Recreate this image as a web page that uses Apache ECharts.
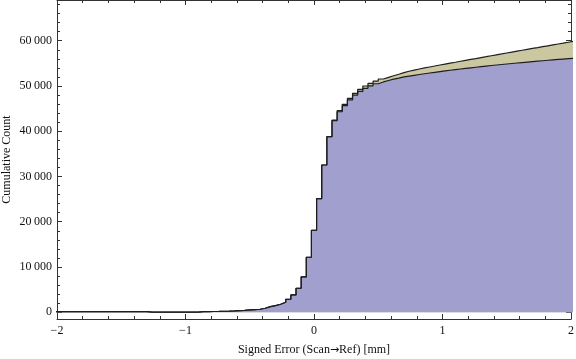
<!DOCTYPE html>
<html><head><meta charset="utf-8">
<script src="https://cdn.jsdelivr.net/npm/echarts@6/dist/echarts.min.js"></script>
<style>html,body{margin:0;padding:0;background:#fff}#c{width:576px;height:359px}</style>
</head><body><div id="c"></div>
<script>
const binCenters = [-2,-1.96,-1.92,-1.88,-1.84,-1.8,-1.76,-1.72,-1.68,-1.64,-1.6,-1.56,-1.52,-1.48,-1.44,-1.4,-1.36,-1.32,-1.28,-1.24,-1.2,-1.16,-1.12,-1.08,-1.04,-1,-0.96,-0.92,-0.88,-0.84,-0.8,-0.76,-0.72,-0.68,-0.64,-0.6,-0.56,-0.52,-0.48,-0.44,-0.4,-0.36,-0.32,-0.28,-0.24,-0.2,-0.16,-0.12,-0.08,-0.04,0,0.04,0.08,0.12,0.16,0.2,0.24,0.28,0.32,0.36,0.4,0.44,0.48,0.52,0.56,0.6,0.64,0.68,0.72,0.76,0.8,0.84,0.88,0.92,0.96,1,1.04,1.08,1.12,1.16,1.2,1.24,1.28,1.32,1.36,1.4,1.44,1.48,1.52,1.56,1.6,1.64,1.68,1.72,1.76,1.8,1.84,1.88,1.92,1.96,2];
const binWidth = 0.04;
const cumulativeBlue = [120,120,120,120,120,120,120,120,120,120,120,120,120,120,120,120,120,120,0,0,0,0,0,0,0,0,0,0,110,140,160,180,210,240,280,350,420,500,580,660,880,1240,1460,1770,2210,2870,3820,5300,7800,12150,18110,25090,32540,38790,42320,44300,45650,46920,47980,48810,49490,50040,50490,50890,51210,51510,51750,52000,52180,52360,52530,52700,52860,53020,53170,53320,53470,53610,53750,53880,54010,54140,54270,54400,54520,54640,54750,54860,54970,55080,55180,55280,55380,55480,55580,55680,55770,55860,55950,56040,56120];
const cumulativeKhaki = [120,120,120,120,120,120,120,120,120,120,120,120,120,120,120,120,120,120,0,0,0,0,0,0,0,0,0,0,110,140,160,180,210,240,280,350,420,500,580,660,880,1240,1460,1770,2210,2870,3820,5300,7800,12150,18110,25090,32540,38790,42450,44550,45950,47270,48380,49260,49990,50590,51090,51540,51910,52260,52600,52950,53250,53500,53750,53980,54200,54420,54630,54840,55050,55250,55460,55660,55860,56060,56270,56470,56680,56880,57080,57290,57490,57690,57890,58090,58290,58480,58680,58880,59080,59280,59470,59670,59870];
const xMajorTicks = [-2,-1,0,1,2];
const xTickLabels = ['\u22122','\u22121','0','1','2'];
const xMinorTicks = [-1.8,-1.6,-1.4,-1.2,-0.8,-0.6,-0.4,-0.2,0.2,0.4,0.6,0.8,1.2,1.4,1.6,1.8];
const yMajorTicks = [0,10000,20000,30000,40000,50000,60000];
const yTickLabels = ['0','10\u2009000','20\u2009000','30\u2009000','40\u2009000','50\u2009000','60\u2009000'];
const yMinorTicks = [2000,4000,6000,8000,12000,14000,16000,18000,22000,24000,26000,28000,32000,34000,36000,38000,42000,44000,46000,48000,52000,54000,56000,58000,62000,64000,66000,68000];

const FONT = 'Liberation Serif';
const AX = '#333';
const chart = echarts.init(document.getElementById('c'), null, {renderer:'canvas'});

function stepData(vals){
  const pts = binCenters.map((c,i)=>[c-binWidth/2, vals[i]]);
  const n = binCenters.length-1;
  pts.push([binCenters[n]+binWidth/2, vals[n]]);
  return pts;
}
function xAx(pos, ticks, len, showLine, labels){
  return {type:'value', min:-2, max:2, position:pos, gridIndex:0,
    axisLine:{show:showLine, onZero:false, lineStyle:{color:AX, width:1}},
    axisTick:{show:true, inside:true, length:len, customValues:ticks, lineStyle:{color:AX, width:1}},
    axisLabel: labels ? {show:true, customValues:ticks, margin:6, color:'#111', fontFamily:FONT, fontSize:12,
      formatter:(v)=>{const k=xMajorTicks.findIndex(t=>Math.abs(t-v)<1e-9); return k>=0?xTickLabels[k]:'';}} : {show:false},
    splitLine:{show:false}};
}
function yAx(pos, ticks, len, showLine, labels){
  return {type:'value', min:-1500, max:69000, position:pos, gridIndex:0,
    axisLine:{show:showLine, onZero:false, lineStyle:{color:AX, width:1}},
    axisTick:{show:true, inside:true, length:len, customValues:ticks, lineStyle:{color:AX, width:1}},
    axisLabel: labels ? {show:true, customValues:ticks, margin:5, color:'#111', fontFamily:FONT, fontSize:12,
      formatter:(v)=>{const k=yMajorTicks.indexOf(v); return k>=0?yTickLabels[k]:'';}} : {show:false},
    splitLine:{show:false}};
}
const xMain = xAx('bottom', xMajorTicks, 5, true, true);
xMain.name = 'Signed Error (Scan{a|\u2192}Ref) [mm]';
xMain.nameLocation = 'middle'; xMain.nameGap = 25; xMain.nameMoveOverlap = false;
xMain.nameTextStyle = {fontFamily:FONT, fontSize:12, color:'#111', rich:{a:{fontFamily:'DejaVu Sans', fontSize:11, color:'#111'}}};
const yMain = yAx('left', yMajorTicks, 5, true, true);
yMain.name = 'Cumulative Count';
yMain.nameLocation = 'middle'; yMain.nameGap = 44; yMain.nameMoveOverlap = false;
yMain.nameTextStyle = {fontFamily:FONT, fontSize:12, color:'#111'};

function stepSeries(name, vals, color){
  return {type:'line', name:name, xAxisIndex:0, yAxisIndex:0, step:'end', clip:true,
    showSymbol:false, symbol:'none', smooth:false,
    lineStyle:{color:'#1e1e1e', width:1.2},
    areaStyle:{color:color, opacity:1, origin:0},
    data:stepData(vals)};
}

chart.setOption({
  animation:false,
  grid:{left:57, right:5, top:0, bottom:40, containLabel:false, outerBoundsMode:'none'},
  xAxis:[xMain, xAx('bottom', xMinorTicks, 3, false, false), xAx('top', xMajorTicks, 5, true, false), xAx('top', xMinorTicks, 3, false, false)],
  yAxis:[yMain, yAx('left', yMinorTicks, 3, false, false), yAx('right', yMajorTicks, 5, true, false), yAx('right', yMinorTicks, 3, false, false)],
  series:[
    stepSeries('khaki', cumulativeKhaki, '#cbc8a1'),
    stepSeries('blue', cumulativeBlue, '#a09fcd')
  ]
});
</script></body></html>
